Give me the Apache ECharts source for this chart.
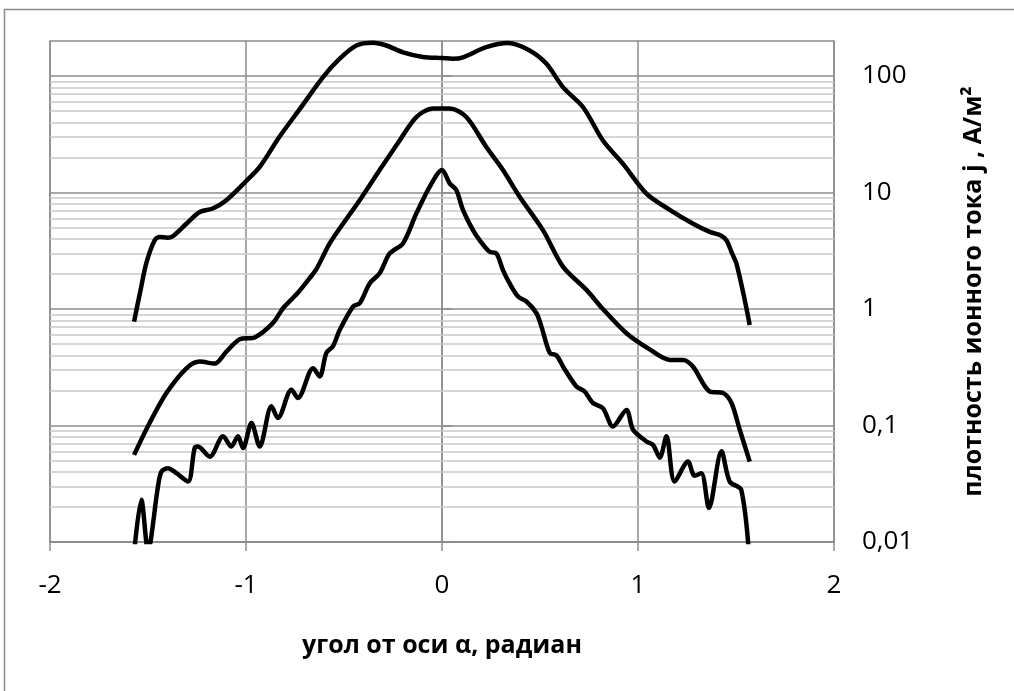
<!DOCTYPE html>
<html>
<head>
<meta charset="utf-8">
<script src="https://cdn.jsdelivr.net/npm/echarts@6/dist/echarts.min.js"></script>
<style>
  html, body { margin: 0; padding: 0; background: #ffffff; }
  #chart { width: 1014px; height: 691px; }
</style>
</head>
<body>
<div id="chart"></div>
<script>
// Angle from the axis (rad) and ion current density (A/m²) for three profiles

const angleUpper = [-1.571, -1.540, -1.508, -1.466, -1.440, -1.400, -1.375, -1.304, -1.236, -1.170, -1.100,
  -1.000, -0.930, -0.830, -0.726, -0.607, -0.522, -0.437, -0.352, -0.284, -0.199, -0.097, 0.000,
  0.056, 0.107, 0.226, 0.337, 0.447, 0.532, 0.618, 0.720, 0.821, 0.923, 1.043, 1.162, 1.281,
  1.366, 1.420, 1.451, 1.480, 1.502, 1.540, 1.570];
const densityUpper = [0.78, 1.4, 2.5, 3.9, 4.15, 4.1, 4.2, 5.4, 6.8, 7.3, 8.6,
  12.5, 16.6, 30, 52, 98, 141, 183, 193, 183, 160, 146, 143,
  141, 145, 177, 192, 166, 128, 80, 54, 28, 17.7, 9.8, 7.1, 5.4,
  4.6, 4.3, 3.9, 3.0, 2.47, 1.3, 0.73];

const angleMiddle = [-1.571, -1.492, -1.406, -1.304, -1.236, -1.160, -1.100, -1.032, -0.956, -0.862,
  -0.810, -0.740, -0.680, -0.641, -0.573, -0.505, -0.420, -0.318, -0.216, -0.131, -0.046,
  0.039, 0.124, 0.226, 0.311, 0.396, 0.515, 0.618, 0.737, 0.821, 0.941, 1.060, 1.162,
  1.230, 1.281, 1.366, 1.434, 1.477, 1.519, 1.570];
const densityMiddle = [0.056, 0.105, 0.19, 0.31, 0.354, 0.34, 0.43, 0.55, 0.57, 0.76,
  1.02, 1.35, 1.8, 2.2, 3.66, 5.4, 8.6, 15.6, 28, 44.5, 52.6,
  52.6, 44.5, 24.6, 15.6, 9.2, 4.76, 2.3, 1.46, 1.0, 0.62, 0.45, 0.366,
  0.366, 0.32, 0.196, 0.19, 0.156, 0.092, 0.049];

const angleLower = [-1.571, -1.534, -1.500, -1.449, -1.432, -1.398, -1.355, -1.296, -1.262, -1.245,
  -1.185, -1.117, -1.075, -1.041, -1.015, -0.972, -0.930, -0.870, -0.837, -0.768, -0.735,
  -0.658, -0.624, -0.590, -0.556, -0.522, -0.454, -0.420, -0.369, -0.318, -0.267, -0.199,
  -0.131, -0.063, 0.000, 0.039, 0.073, 0.107, 0.158, 0.192, 0.243, 0.278, 0.311, 0.345,
  0.388, 0.431, 0.482, 0.507, 0.550, 0.584, 0.618, 0.686, 0.728, 0.770, 0.821, 0.872,
  0.941, 0.975, 1.043, 1.077, 1.111, 1.145, 1.187, 1.255, 1.289, 1.323, 1.362, 1.426,
  1.468, 1.527, 1.571];
const densityLower = [0.008, 0.023, 0.0085, 0.030, 0.040, 0.043, 0.039, 0.033, 0.064, 0.066,
  0.054, 0.081, 0.066, 0.081, 0.064, 0.105, 0.066, 0.146, 0.116, 0.203, 0.172,
  0.31, 0.264, 0.42, 0.48, 0.66, 1.05, 1.12, 1.66, 2.03, 3.0, 3.66,
  6.6, 11.2, 15.6, 12, 10.5, 7.1, 4.76, 3.9, 3.1, 3.0, 2.16, 1.66,
  1.28, 1.16, 0.92, 0.71, 0.42, 0.40, 0.32, 0.216, 0.196, 0.156, 0.141, 0.098,
  0.136, 0.092, 0.073, 0.068, 0.053, 0.081, 0.033, 0.049, 0.037, 0.039, 0.0196, 0.060,
  0.033, 0.028, 0.006];

// Axis ticks
const xTicks = [-2, -1, 0, 1, 2];
const yDecades = [0.01, 0.1, 1, 10, 100];
const yMinorSteps = [2, 3, 4, 5, 6, 7, 8, 9];
const yMax = 200;

const xTitle = 'угол от оси α, радиан';
const yTitle = 'плотность ионного тока j , А/м²';

const pairs = (xs, ys) => xs.map((x, i) => [x, ys[i]]);

// Intermediate log grid values (2..9 × each decade)
const minorGrid = [];
yDecades.forEach(d => yMinorSteps.forEach(m => {
  const v = parseFloat((m * d).toPrecision(3));
  if (v < yMax) minorGrid.push(v);
}));

const gridGray = '#8c8c8c';
const minorGray = '#c8c8c8';
const tickFont = { fontFamily: '"Open Sans", "Noto Sans", sans-serif', fontSize: 26, color: '#000' };
const titleFont = { fontFamily: '"Open Sans", "Noto Sans", sans-serif', fontSize: 25, fontWeight: 'bold', color: '#000' };

const curve = (xs, ys) => ({
  type: 'line',
  data: pairs(xs, ys),
  showSymbol: false,
  smooth: 0.3,
  clip: true,
  z: 3,
  lineStyle: { color: '#000', width: 4.5 },
  emphasis: { disabled: true }
});

const chart = echarts.init(document.getElementById('chart'), null, { renderer: 'canvas' });
chart.setOption({
  animation: false,
  backgroundColor: '#ffffff',
  graphic: [{
    type: 'rect',
    silent: true,
    z: -10,
    shape: { x: 4.5, y: 9.5, width: 1100, height: 800 },
    style: { fill: 'none', stroke: gridGray, lineWidth: 1.5 }
  }],
  grid: {
    left: 50, right: 180, top: 41, bottom: 149,
    show: true, borderColor: gridGray, borderWidth: 1.5,
    containLabel: false, outerBoundsMode: 'none'
  },
  xAxis: {
    type: 'value',
    min: -2, max: 2, interval: 1,
    axisLine: { show: true, onZero: false, lineStyle: { color: gridGray, width: 1.5 } },
    axisTick: { show: true, length: 9, inside: false, lineStyle: { color: gridGray, width: 1.5 } },
    axisLabel: Object.assign({ margin: 31, formatter: v => String(v) }, tickFont),
    splitLine: { show: true, lineStyle: { color: gridGray, width: 1.5 } },
    name: xTitle,
    nameLocation: 'middle',
    nameGap: 91,
    nameTextStyle: titleFont
  },
  yAxis: {
    type: 'log',
    logBase: 10,
    min: 0.01, max: yMax,
    position: 'right',
    axisLine: { show: true, lineStyle: { color: gridGray, width: 1.5 } },
    axisTick: { show: true, length: 10, inside: false, customValues: yDecades, lineStyle: { color: gridGray, width: 1.5 } },
    axisLabel: Object.assign({
      margin: 28,
      customValues: yDecades,
      formatter: v => String(parseFloat(Number(v).toPrecision(3))).replace('.', ',')
    }, tickFont),
    splitLine: { show: true, lineStyle: { color: gridGray, width: 1.5 } },
    minorSplitLine: { show: false },
    name: yTitle,
    nameLocation: 'middle',
    nameRotate: 90,
    nameGap: 127,
    nameTextStyle: titleFont
  },
  series: [
    {
      type: 'line',
      data: [],
      silent: true,
      z: 1,
      markLine: {
        silent: true,
        animation: false,
        z: 1,
        symbol: ['none', 'none'],
        label: { show: false },
        emphasis: { disabled: true },
        lineStyle: { color: minorGray, width: 1.5, type: 'solid' },
        data: minorGrid.map(v => ({ yAxis: v }))
      }
    },
    curve(angleUpper, densityUpper),
    curve(angleMiddle, densityMiddle),
    curve(angleLower, densityLower)
  ]
});
</script>
</body>
</html>
